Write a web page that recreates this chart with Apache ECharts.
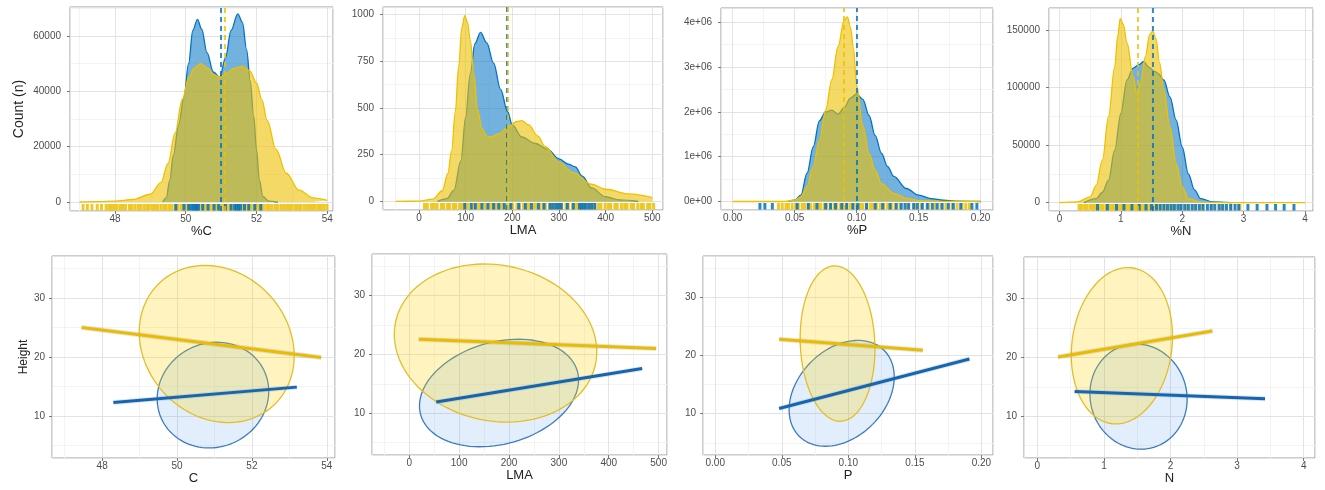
<!DOCTYPE html>
<html>
<head>
<meta charset="utf-8">
<script src="https://cdn.jsdelivr.net/npm/echarts@6/dist/echarts.min.js"></script>
<style>
  html, body { margin: 0; padding: 0; background: #fff; }
  #chart { width: 1325px; height: 490px; }
</style>
</head>
<body>
<div id="chart"></div>
<script>
const BLUE = '#0073C2';
const YELLOW = '#EFC000';
const FONT = 'Liberation Sans, Arial, sans-serif';

// top row: density curves, [value, count]
const densC_blue = [[49.35,0],[49.45,1500],[49.55,8000],[49.65,17000],[49.8,28000],[49.95,38000],[50.08,50000],[50.2,62000],[50.33,66000],[50.45,62500],[50.6,54000],[50.78,47000],[50.96,45000],[51.12,52000],[51.28,62000],[51.47,68000],[51.6,65000],[51.72,55000],[51.82,44000],[51.92,31000],[52.0,19000],[52.08,8000],[52.18,2000],[52.35,300],[52.6,0]];
const densC_yellow = [[47,0],[47.5,150],[48,350],[48.5,900],[49,2800],[49.3,7000],[49.5,14000],[49.7,25000],[49.9,37000],[50.1,45500],[50.25,48500],[50.42,50000],[50.6,48500],[50.8,46000],[50.96,45000],[51.15,46500],[51.35,48200],[51.6,49000],[51.8,47500],[52,43000],[52.15,37000],[52.3,29500],[52.55,19000],[52.84,10400],[53.2,4300],[53.6,1500],[54,600]];
const densLMA_blue = [[40,0],[60,15],[75,60],[90,218],[100,451],[110,684],[120,845],[132,905],[145,850],[160,740],[175,600],[190,480],[200,410],[220,345],[250,310],[275,280],[300,228],[320,200],[335,185],[350,135],[370,72],[400,25],[430,8],[470,0]];
const densLMA_yellow = [[-50,0],[0,1],[30,12],[50,57],[62,150],[70,272],[78,480],[85,720],[92,930],[98,995],[104,960],[110,863],[118,680],[125,500],[135,390],[145,350],[155,345],[170,360],[190,395],[210,428],[220,433],[235,410],[255,350],[270,295],[300,210],[330,155],[370,92],[400,65],[450,40],[500,20]];
const densP_blue = [[0.045,0],[0.05,30000],[0.055,140000],[0.06,630000],[0.065,1220000],[0.07,1800000],[0.075,2000000],[0.08,2040000],[0.085,1950000],[0.09,2100000],[0.095,2310000],[0.1,2400000],[0.105,2280000],[0.11,1920000],[0.115,1470000],[0.12,1080000],[0.125,780000],[0.13,560000],[0.14,290000],[0.15,140000],[0.16,65000],[0.17,28000],[0.18,10000],[0.2,0]];
const densP_yellow = [[0,0],[0.04,0],[0.05,30000],[0.055,100000],[0.06,330000],[0.065,780000],[0.07,1370000],[0.075,2040000],[0.08,2720000],[0.085,3460000],[0.09,4050000],[0.0925,4120000],[0.095,3900000],[0.0975,3400000],[0.1,2600000],[0.105,1700000],[0.11,1070000],[0.115,700000],[0.12,400000],[0.13,180000],[0.14,70000],[0.15,20000],[0.17,3000],[0.2,0]];
const densN_blue = [[0.4,0],[0.6,3500],[0.7,9000],[0.8,19500],[0.9,45600],[1.0,77600],[1.1,106700],[1.2,117000],[1.3,120000],[1.37,122700],[1.45,118000],[1.55,114000],[1.6,112500],[1.7,106700],[1.8,92000],[1.9,72000],[2.0,48500],[2.1,25000],[2.2,11000],[2.3,3500],[2.5,600],[2.8,0]];
const densN_yellow = [[0,0],[0.3,600],[0.5,5000],[0.6,15000],[0.7,37000],[0.8,75000],[0.9,118000],[0.95,145000],[0.99,160000],[1.04,155000],[1.1,139000],[1.2,110000],[1.26,94000],[1.32,104000],[1.4,127000],[1.47,146000],[1.52,149000],[1.57,143000],[1.63,122000],[1.7,98000],[1.8,66000],[1.9,34000],[2.0,13700],[2.1,3500],[2.3,500],[2.6,0],[4,0]];

// group means [blue, yellow]
const meanC = [51.0, 51.1];
const meanLMA = [189, 191];
const meanP = [0.097, 0.094];
const meanN = [1.52, 1.27];

// rug marks
const rugC_yellow = [47.1,47.22,47.35,47.5,47.62,47.75,47.83,47.9,47.98,48.06,48.15,48.22,48.3,48.41,48.48,48.57,48.66,48.73,48.82,48.9,48.97,49.06,49.14,49.21,49.3,49.38,49.45,49.54,49.61,49.7,49.77,49.86,49.93,50.01,50.1,50.18,50.26,50.35,50.43,50.5,50.58,50.67,50.75,50.84,50.91,51.0,51.07,51.16,51.24,51.31,51.4,51.49,51.56,51.64,51.73,51.8,51.88,51.97,52.04,52.12,52.2,52.29,52.36,52.44,52.53,52.6,52.69,52.77,52.85,52.93,53.01,53.1,53.18,53.25,53.34,53.42,53.5,53.58,53.66,53.75,53.83,53.91,53.99];
const rugC_blue = [49.72,49.95,50.08,50.16,50.22,50.27,50.31,50.36,50.48,50.63,50.8,50.93,51.12,51.28,51.38,51.44,51.49,51.55,51.66,51.78,51.95,52.12];
const rugLMA_yellow = [12,18,27,33,39,48,53,61,66,74,79,87,92,100,105,114,119,127,132,141,146,154,161,166,175,180,189,196,201,210,215,224,231,236,245,250,259,266,271,280,285,294,301,306,315,320,329,336,341,350,355,364,371,376,385,390,399,406,411,420,425,434,441,446,455,460,469,476,481,490,495,503];
const rugLMA_blue = [98,112,121,135,148,160,171,183,197,214,228,241,256,268,281,287,293,299,305,318,331,344,348,353,358,364,370,377];
const rugP_yellow = [0.037,0.040,0.043,0.045,0.048,0.051,0.053,0.056,0.058,0.061,0.063,0.066,0.069,0.071,0.074,0.076,0.079,0.082,0.084,0.087,0.089,0.092,0.095,0.097,0.100,0.103,0.105,0.108,0.111,0.113,0.116,0.119,0.122,0.125,0.128,0.131,0.135,0.141,0.147,0.152,0.158,0.163,0.168,0.172,0.177,0.181,0.185,0.188,0.191];
const rugP_blue = [0.022,0.026,0.032,0.052,0.061,0.068,0.075,0.079,0.083,0.088,0.092,0.097,0.101,0.108,0.115,0.121,0.127,0.132,0.136,0.139,0.142,0.146,0.149,0.153,0.157,0.161,0.165,0.169,0.174,0.178,0.184,0.193,0.197];
const rugN_yellow = [0.32,0.36,0.41,0.45,0.5,0.54,0.58,0.63,0.67,0.71,0.76,0.8,0.84,0.88,0.93,0.97,1.01,1.06,1.1,1.14,1.19,1.23,1.27,1.32,1.36,1.4,1.45,1.49,1.54,1.59,1.65,1.72,1.8,1.88,1.97,2.07,2.19,2.33,2.48,2.63,2.79,2.94];
const rugN_blue = [0.62,0.78,0.93,1.05,1.18,1.3,1.41,1.5,1.58,1.64,1.7,1.76,1.82,1.87,1.93,1.98,2.04,2.1,2.16,2.22,2.28,2.34,2.41,2.47,2.53,2.6,2.66,2.72,2.79,2.86,2.92,3.07,3.22,3.38,3.52,3.66,3.82];

// bottom row: data ellipses [meanX, meanY, sdX, sdY, r] and fitted lines
const ellC_blue = [50.96, 13.55, 1.49, 8.95, 0.07];
const ellC_yellow = [51.06, 22.2, 2.07, 13.3, -0.15];
const ellLMA_blue = [180, 13.45, 159.5, 9.15, 0.24];
const ellLMA_yellow = [173, 21.95, 203, 13.45, -0.11];
const ellP_blue = [0.095, 13.5, 0.0395, 9.1, 0.31];
const ellP_yellow = [0.0919, 22.05, 0.0281, 13.35, -0.07];
const ellN_blue = [1.52, 13.35, 0.73, 8.95, -0.05];
const ellN_yellow = [1.27, 22.0, 0.76, 13.3, 0.12];

const fitC_blue = [[48.3, 12.3], [53.2, 14.9]];
const fitC_yellow = [[47.45, 25.0], [53.85, 19.9]];
const fitLMA_blue = [[54, 11.9], [467, 17.6]];
const fitLMA_yellow = [[19, 22.6], [495, 21.0]];
const fitP_blue = [[0.048, 10.9], [0.191, 19.4]];
const fitP_yellow = [[0.048, 22.8], [0.156, 20.9]];
const fitN_blue = [[0.56, 14.2], [3.42, 13.0]];
const fitN_yellow = [[0.31, 20.1], [2.63, 24.5]];

const plain = (v) => String(v);
const fix2 = (v) => v.toFixed(2);
const sci = (v) => (v === 0 ? '0e+00' : Math.round(v / 1e6) + 'e+06');

const panels = [
  { box: [70, 7, 263, 204], x: [46.73, 54.16, 2], y: [-3250, 70490, 20000], xName: '%C', yName: 'Count (n)',
    blue: densC_blue, yellow: densC_yellow, mean: meanC, rugB: rugC_blue, rugY: rugC_yellow },
  { box: [383, 7, 280, 203], x: [-77, 523, 100], y: [-46, 1041, 250], xName: 'LMA',
    blue: densLMA_blue, yellow: densLMA_yellow, mean: meanLMA, rugB: rugLMA_blue, rugY: rugLMA_yellow },
  { box: [721, 8, 272, 202], x: [-0.0094, 0.21, 0.05], y: [-190000, 4320000, 1000000], xName: '%P', xFmt: fix2, yFmt: sci,
    blue: densP_blue, yellow: densP_yellow, mean: meanP, rugB: rugP_blue, rugY: rugP_yellow },
  { box: [1049, 8, 264, 203], x: [-0.17, 4.13, 1], y: [-7300, 169200, 50000], xName: '%N',
    blue: densN_blue, yellow: densN_yellow, mean: meanN, rugB: rugN_blue, rugY: rugN_yellow },
  { box: [52, 256, 283, 202], x: [46.66, 54.22, 2], y: [2.9, 37.1, 10], xName: 'C', yName: 'Height', bottom: true,
    ellB: ellC_blue, ellY: ellC_yellow, fitB: fitC_blue, fitY: fitC_yellow },
  { box: [372, 254, 295, 201], x: [-74.7, 516.8, 100], y: [2.9, 37.1, 10], xName: 'LMA', bottom: true,
    ellB: ellLMA_blue, ellY: ellLMA_yellow, fitB: fitLMA_blue, fitY: fitLMA_yellow },
  { box: [703, 256, 290, 199], x: [-0.0092, 0.2087, 0.05], y: [2.9, 37.1, 10], xName: 'P', xFmt: fix2, bottom: true,
    ellB: ellP_blue, ellY: ellP_yellow, fitB: fitP_blue, fitY: fitP_yellow },
  { box: [1024, 257, 291, 201], x: [-0.2, 4.17, 1], y: [2.9, 37.1, 10], xName: 'N', bottom: true,
    ellB: ellN_blue, ellY: ellN_yellow, fitB: fitN_blue, fitY: fitN_yellow }
];

function rgba(hex, a) {
  const n = parseInt(hex.slice(1), 16);
  return 'rgba(' + (n >> 16) + ',' + ((n >> 8) & 255) + ',' + (n & 255) + ',' + a + ')';
}

function majorAxis(dim, gi, lim, fmt, p) {
  const isX = dim === 'x';
  const ax = {
    type: 'value', gridIndex: gi, min: lim[0], max: lim[1],
    minInterval: lim[2], maxInterval: lim[2], z: 1,
    axisLine: { show: false, onZero: false },
    axisTick: { show: true, length: 3, lineStyle: { color: '#777' } },
    axisLabel: {
      color: '#4d4d4d', fontSize: 10, fontFamily: FONT, formatter: fmt || plain,
      showMinLabel: false, showMaxLabel: false, margin: isX ? 3 : (p.bottom ? 7 : 9)
    },
    splitLine: { show: true, lineStyle: { color: '#e3e3e3', width: 1 } }
  };
  const name = isX ? p.xName : p.yName;
  if (name) {
    ax.name = name;
    ax.nameLocation = 'middle';
    ax.nameTextStyle = { fontFamily: FONT, color: '#222', fontSize: isX ? 13 : (p.bottom ? 12 : 14) };
    ax.nameGap = isX ? (p.bottom ? 14 : 11) : (p.bottom ? 20 : 44);
  }
  return ax;
}

function minorAxis(gi, lim) {
  return {
    type: 'value', gridIndex: gi, min: lim[0], max: lim[1],
    minInterval: lim[2] / 2, maxInterval: lim[2] / 2, z: 0,
    axisLine: { show: false, onZero: false }, axisTick: { show: false }, axisLabel: { show: false },
    splitLine: { show: true, lineStyle: { color: '#f3f3f3', width: 1 } }
  };
}

function densitySeries(gi, data, color, alpha, mean, z) {
  return {
    type: 'line', xAxisIndex: 2 * gi, yAxisIndex: 2 * gi, data: data,
    smooth: 0.35, smoothMonotone: 'x', symbol: 'none', z: z,
    lineStyle: { color: color, width: 1.3 },
    areaStyle: { color: color, opacity: alpha },
    markLine: {
      silent: true, symbol: ['none', 'none'], label: { show: false }, z: 7,
      lineStyle: { color: color, type: [5, 4], width: 1.6 },
      data: [{ xAxis: mean }]
    }
  };
}

function rugSeries(gi, values, color) {
  return {
    type: 'custom', xAxisIndex: 2 * gi, yAxisIndex: 2 * gi, z: 6,
    data: values.map((v) => [v, 0]),
    renderItem: function (params, api) {
      const x = api.coord([api.value(0), 0])[0];
      const cs = params.coordSys;
      const b = cs.y + cs.height;
      return {
        type: 'line',
        shape: { x1: x, y1: b - 0.5, x2: x, y2: b - 7 },
        style: { stroke: color, lineWidth: 3, opacity: 0.85 }
      };
    }
  };
}

function ellipseSeries(gi, e, stroke, fill, fillAlpha, z) {
  return {
    type: 'custom', xAxisIndex: 2 * gi, yAxisIndex: 2 * gi, z: z,
    dimensions: ['mx', 'my', 'sx', 'sy', 'r'],
    encode: { x: 0, y: 1 },
    data: [e],
    renderItem: function (params, api) {
      const mx = api.value(0), my = api.value(1), sx = api.value(2), sy = api.value(3), r = api.value(4);
      const k = Math.sqrt(1 - r * r);
      const pts = [];
      for (let i = 0; i < 100; i++) {
        const t = (i / 100) * Math.PI * 2;
        pts.push(api.coord([mx + sx * Math.cos(t), my + sy * (r * Math.cos(t) + k * Math.sin(t))]));
      }
      return {
        type: 'polygon',
        shape: { points: pts },
        style: { fill: rgba(fill, fillAlpha), stroke: stroke, lineWidth: 1.3 }
      };
    }
  };
}

function fitSeries(gi, data, color, band) {
  return {
    type: 'line', xAxisIndex: 2 * gi, yAxisIndex: 2 * gi, data: data,
    symbol: 'none', silent: true, z: band ? 5 : 6,
    lineStyle: band ? { color: 'rgba(150,150,150,0.25)', width: 5 } : { color: color, width: 3 }
  };
}

const grid = [];
const xAxis = [];
const yAxis = [];
const series = [];

panels.forEach((p, gi) => {
  grid.push({
    left: p.box[0], top: p.box[1], width: p.box[2], height: p.box[3],
    show: true, borderColor: '#9a9a9a', borderWidth: 1, backgroundColor: '#fff'
  });
  xAxis.push(majorAxis('x', gi, p.x, p.xFmt, p), minorAxis(gi, p.x));
  yAxis.push(majorAxis('y', gi, p.y, p.yFmt, p), minorAxis(gi, p.y));

  if (!p.bottom) {
    series.push(densitySeries(gi, p.blue, BLUE, 0.55, p.mean[0], 3));
    series.push(densitySeries(gi, p.yellow, YELLOW, 0.6, p.mean[1], 4));
    series.push(rugSeries(gi, p.rugY, YELLOW));
    series.push(rugSeries(gi, p.rugB, BLUE));
  } else {
    series.push(ellipseSeries(gi, p.ellB, '#3b7cbf', '#4a97ea', 0.16, 3));
    series.push(ellipseSeries(gi, p.ellY, '#E3BE2A', '#FFD60A', 0.26, 4));
    series.push(fitSeries(gi, p.fitB, BLUE, true));
    series.push(fitSeries(gi, p.fitY, YELLOW, true));
    series.push(fitSeries(gi, p.fitB, '#1366b3', false));
    series.push(fitSeries(gi, p.fitY, '#E9BC00', false));
  }
});

const chart = echarts.init(document.getElementById('chart'));
chart.setOption({
  animation: false,
  backgroundColor: '#fff',
  grid: grid,
  xAxis: xAxis,
  yAxis: yAxis,
  series: series
});
window.addEventListener('resize', () => chart.resize());
</script>
</body>
</html>
